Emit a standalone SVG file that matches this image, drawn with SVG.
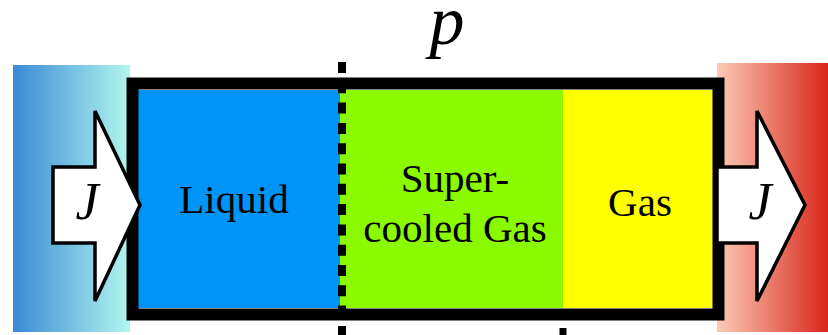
<svg xmlns="http://www.w3.org/2000/svg" width="828" height="335" viewBox="0 0 828 335">
<defs>
<linearGradient id="gl" x1="0" y1="0" x2="1" y2="0">
<stop offset="0" stop-color="#3a8ad6"/>
<stop offset="1" stop-color="#b2f6ee"/>
</linearGradient>
<linearGradient id="gr" x1="0" y1="0" x2="1" y2="0">
<stop offset="0" stop-color="#fbcbb6"/>
<stop offset="1" stop-color="#d8261a"/>
</linearGradient>
<style>
text{font-family:'Liberation Serif',Tinos,'Times New Roman',Times,'Nimbus Roman','FreeSerif','DejaVu Serif','Noto Serif',serif;fill:#000}
.i{font-style:italic}
.arrow{fill:#fff;stroke:#000;stroke-width:3.5;stroke-linejoin:miter}
.dash{stroke:#000;stroke-width:8;stroke-dasharray:11 9.3}
</style>
</defs>
<g id="reservoir-left"><rect x="13" y="65" width="117" height="267" fill="url(#gl)"/></g>
<g id="reservoir-right"><rect x="717" y="63" width="111" height="269" fill="url(#gr)"/></g>
<g id="liquid">
<rect x="138" y="90" width="202" height="218" fill="#0094f9"/>
<text x="234" y="213" font-size="41" text-anchor="middle">Liquid</text>
</g>
<g id="supercooled">
<rect x="340" y="90" width="223" height="218" fill="#8bf900"/>
<text x="455" y="192" font-size="41" text-anchor="middle">Super-</text>
<text x="455" y="242" font-size="41" text-anchor="middle">cooled Gas</text>
</g>
<g id="gas">
<rect x="563" y="90" width="150" height="218" fill="#ffff00"/>
<text x="640" y="216" font-size="41" text-anchor="middle">Gas</text>
</g>
<g id="connectors">
<line class="dash" x1="342" y1="62" x2="342" y2="335"/>
<line x1="563" y1="328" x2="563" y2="335" stroke="#000" stroke-width="7"/>
</g>
<g id="box"><rect x="132.5" y="83.5" width="586" height="231" fill="none" stroke="#000" stroke-width="12"/></g>
<g id="label-p"><text class="i" x="447" y="44" font-size="70" text-anchor="middle">p</text></g>
<g id="flux-in">
<polygon class="arrow" points="53,167 95,167 95,111 140,205 95,301 95,243 53,243"/>
<text class="i" x="87" y="219" font-size="52" text-anchor="middle">J</text>
</g>
<g id="flux-out">
<polygon class="arrow" points="717,167 757,167 757,111 805,205 757,301 757,243 717,243"/>
<text class="i" x="760" y="219" font-size="52" text-anchor="middle">J</text>
</g>
</svg>
